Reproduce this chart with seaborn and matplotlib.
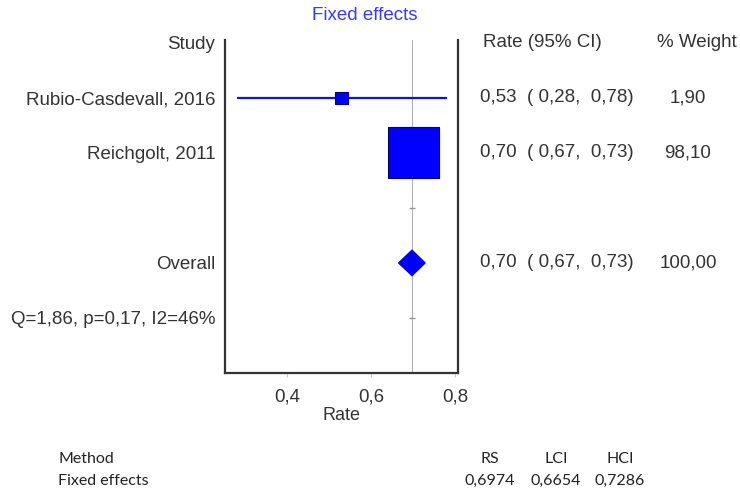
import numpy as np
import pandas as pd
import matplotlib
matplotlib.use("Agg")
import matplotlib.pyplot as plt
import matplotlib.transforms as mtransforms
import seaborn as sns

sns.set_style("white")
plt.rcParams['font.family'] = ['Liberation Sans', 'DejaVu Sans']

# study level data
studies = ['Rubio-Casdevall, 2016', 'Reichgolt, 2011']
rate = [0.53, 0.70]
lci = [0.28, 0.67]
hci = [0.78, 0.73]
weight = [1.90, 98.10]
ci_text = ['0,53  ( 0,28,  0,78)', '0,70  ( 0,67,  0,73)']
weight_text = ['1,90', '98,10']

# pooled estimate
overall_label = 'Overall'
overall_rate = 0.6974
overall_lci = 0.6654
overall_hci = 0.7286
overall_ci_text = '0,70  ( 0,67,  0,73)'
overall_weight_text = '100,00'
het_label = 'Q=1,86, p=0,17, I2=46%'

x_ticks = [0.4, 0.6, 0.8]
x_ticklabels = ['0,4', '0,6', '0,8']

method_name = 'Fixed effects'
method_cols = ['RS', 'LCI', 'HCI']
method_vals = ['0,6974', '0,6654', '0,7286']

study_rows = [1, 2]
overall_row = 4
het_row = 5

df = pd.DataFrame({'study': studies, 'rate': rate, 'lci': lci, 'hci': hci,
                   'weight': weight, 'row': study_rows})

fig = plt.figure(figsize=(7.4, 5.04), dpi=100)
ax = fig.add_axes([225 / 740, 1 - 373 / 504, 233 / 740, 333 / 504])

fs = 13.5
blue = '#0000ff'
ax.axvline(overall_rate, color='#b0b0b0', lw=0.8, zorder=0)
ax.plot([overall_rate, overall_rate], [3, het_row], '_', color='#999999', ms=4)

ax.hlines(df['row'], df['lci'], df['hci'], color='#1414c8', lw=1.6, zorder=1)
sns.scatterplot(data=df, x='rate', y='row', size='weight', sizes=(80, 1350),
                marker='s', color=blue, edgecolor='#00008b', linewidth=0.8,
                legend=False, ax=ax, zorder=2)

# pooled diamond spans the pooled CI
h = 0.23
ax.fill([overall_lci, overall_rate, overall_hci, overall_rate],
        [overall_row, overall_row - h, overall_row, overall_row + h],
        color=blue, zorder=2)

ax.set_xlim(0.252, 0.807)
ax.set_ylim(6, -0.05)
ax.set_xticks(x_ticks, x_ticklabels)
ax.set_yticks([0, *study_rows, overall_row, het_row],
              ['Study', *studies, overall_label, het_label])
ax.tick_params(axis='y', length=0, pad=7, labelsize=fs, labelcolor='#333333')
ax.tick_params(axis='x', length=3, color='#cccccc', pad=8, labelsize=fs,
               labelcolor='#333333', bottom=True)
ax.set_xlabel('Rate', fontsize=fs - 0.5, color='#333333', labelpad=1)
ax.set_ylabel('')
ax.spines['top'].set_visible(False)
for s in ['left', 'right', 'bottom']:
    ax.spines[s].set_color('#333333')
    ax.spines[s].set_linewidth(1.6)

fig.text(365 / 740, 1 - 15 / 504, 'Fixed effects', color='#3a3af0',
         ha='center', va='center', fontsize=fs)

# right hand columns
trans = mtransforms.blended_transform_factory(fig.transFigure, ax.transData)
tc = '#333333'
ax.text(483 / 740, 0, 'Rate (95% CI)', transform=trans, va='center', ha='left',
        fontsize=fs, color=tc)
ax.text(657 / 740, 0, '% Weight', transform=trans, va='center', ha='left',
        fontsize=fs, color=tc)
for r, c, w in zip(study_rows + [overall_row], ci_text + [overall_ci_text],
                   weight_text + [overall_weight_text]):
    ax.text(480 / 740, r, c, transform=trans, va='center', ha='left',
            fontsize=fs, color=tc)
    ax.text(688 / 740, r, w, transform=trans, va='center', ha='center',
            fontsize=fs, color=tc)

# summary table below
fam = ['Lato', 'DejaVu Sans']
bfs = 11.5
fig.text(58 / 740, 1 - 459 / 504, 'Method', family=fam, fontsize=bfs,
         va='center', color='#222222')
fig.text(58 / 740, 1 - 481 / 504, method_name, family=fam, fontsize=bfs,
         va='center', color='#222222')
for xpx, col, val in zip([490, 556, 620], method_cols, method_vals):
    fig.text(xpx / 740, 1 - 459 / 504, col, family=fam, fontsize=bfs,
             va='center', ha='center', color='#222222')
    fig.text(xpx / 740, 1 - 481 / 504, val, family=fam, fontsize=bfs,
             va='center', ha='center', color='#222222')

fig.savefig('out.png', dpi=100)
